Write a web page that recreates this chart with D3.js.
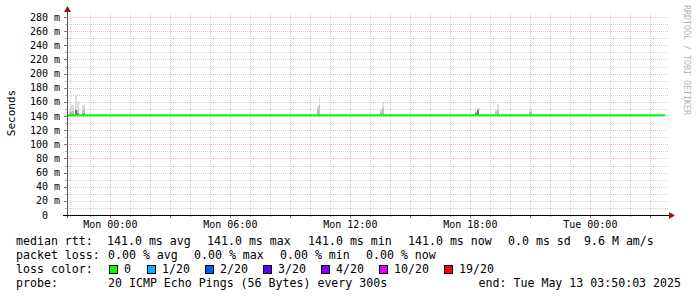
<!DOCTYPE html>
<html><head><meta charset="utf-8">
<script src="https://cdn.jsdelivr.net/npm/d3@7"></script>
<style>
html,body{margin:0;padding:0;background:#fff;}
svg{display:block;font-family:"DejaVu Sans Mono",monospace;}
</style></head>
<body><svg id="c" width="697" height="297"></svg>
<script>
// ---------- data ----------
const startTime = new Date(2025, 4, 11, 21, 50, 3);
const endTime = new Date(2025, 4, 13, 3, 50, 3);
// median rtt (seconds) – constant over the whole period
const medianTimes = [new Date(2025, 4, 11, 21, 50), new Date(2025, 4, 13, 3, 45)];
const medianValues = [0.141, 0.141];
// smoke (spread of the 20 pings) at a few 5-minute steps, seconds
const smokeTimes = [
  new Date(2025,4,11,21,55), new Date(2025,4,11,22,0), new Date(2025,4,11,22,5),
  new Date(2025,4,11,22,15), new Date(2025,4,11,22,20), new Date(2025,4,11,22,35),
  new Date(2025,4,11,22,40),
  new Date(2025,4,12,10,20), new Date(2025,4,12,10,25),
  new Date(2025,4,12,13,30), new Date(2025,4,12,13,35),
  new Date(2025,4,12,18,15), new Date(2025,4,12,18,20),
  new Date(2025,4,12,19,15), new Date(2025,4,12,19,20),
  new Date(2025,4,12,20,55), new Date(2025,4,12,21,0)
];
const smokeLow  = [0.142,0.143,0.143,0.148,0.144,0.143,0.144, 0.142,0.142, 0.142,0.142, 0.144,0.148, 0.142,0.142, 0.142,0.142];
const smokeMid  = [0.145,0.146,0.147,0.149,0.148,0.148,0.150, 0.150,0.155, 0.146,0.152, 0.146,0.150, 0.146,0.148, 0.145,0.146];
const smokeMax  = [0.151,0.155,0.155,0.170,0.160,0.155,0.155, 0.154,0.167, 0.150,0.159, 0.147,0.152, 0.148,0.157, 0.148,0.151];
const yTicks = [0,0.02,0.04,0.06,0.08,0.10,0.12,0.14,0.16,0.18,0.20,0.22,0.24,0.26,0.28];
const yLabel = "Seconds";
const lossLabels = ["0","1/20","2/20","3/20","4/20","10/20","19/20"];
const lossColors = ["#00ff00","#00b8ff","#0059ff","#5e00ff","#7e00ff","#dd00ff","#ff0000"];
const rttLegend = ["median rtt:","141.0 ms avg","141.0 ms max","141.0 ms min","141.0 ms now","0.0 ms sd","9.6 M am/s"];
const lossLegend = ["packet loss:","0.00 % avg","0.00 % max","0.00 % min","0.00 % now"];
const probeLegend = ["probe:","20 ICMP Echo Pings (56 Bytes) every 300s","end: Tue May 13 03:50:03 2025"];
const watermark = "RRDTOOL / TOBI OETIKER";

// ---------- chart ----------
const svg = d3.select("#c");
const L = 67, R = 667, T = 17, B = 215;
const x = d3.scaleTime().domain([startTime, endTime]).range([L, R]);
const y = d3.scaleLinear().domain([0, 0.28]).range([B, T]);

const g = svg.append("g");
// grid
const minorCol = "rgba(140,140,140,0.4)", majorCol = "rgba(200,100,100,0.4)";
const hMinor = d3.range(0, 29).map(i => i * 0.01);
hMinor.forEach(v => {
  const yy = Math.round(y(v)) + 0.5;
  const major = Math.round(v * 1000) % 20 === 0;
  if (v > 0) g.append("line").attr("x1", L).attr("x2", R + 2).attr("y1", yy).attr("y2", yy)
    .attr("stroke", major ? majorCol : minorCol).attr("stroke-dasharray", "1,1");
  g.append("line").attr("x1", L - (major ? 3 : 2)).attr("x2", L).attr("y1", yy).attr("y2", yy)
    .attr("stroke", major ? "rgba(120,60,60,0.7)" : "rgba(120,120,120,0.6)");
});
const hours = d3.timeHour.range(startTime, endTime);
hours.forEach(h => {
  const xx = Math.round(x(h)) + 0.5;
  const major = h.getHours() % 3 === 0;
  g.append("line").attr("x1", xx).attr("x2", xx).attr("y1", B).attr("y2", T - 3)
    .attr("stroke", major ? majorCol : minorCol).attr("stroke-dasharray", "1,1");
  g.append("line").attr("x1", xx).attr("x2", xx).attr("y1", B).attr("y2", B + (major ? 3 : 2))
    .attr("stroke", major ? "rgba(120,60,60,0.7)" : "rgba(120,120,120,0.6)");
});

// smoke
const step = 5 * 60 * 1000;
const sm = smokeTimes.map((t, i) => ({t, lo: smokeLow[i], mid: smokeMid[i], max: smokeMax[i]}));
const base = medianValues[0];
const bw = d => x(new Date(+d.t + step)) - x(d.t);
g.selectAll(".s1").data(sm).join("rect").attr("shape-rendering","crispEdges")
  .attr("x", d => x(d.t)).attr("width", bw)
  .attr("y", d => y(d.max)).attr("height", d => y(base) - y(d.max)).attr("fill", "#dcdcdc");
g.selectAll(".s2").data(sm).join("rect").attr("shape-rendering","crispEdges")
  .attr("x", d => x(d.t)).attr("width", bw)
  .attr("y", d => y(d.mid)).attr("height", d => y(base) - y(d.mid)).attr("fill", "#bdbdbd");
g.selectAll(".s3").data(sm).join("rect").attr("shape-rendering","crispEdges")
  .attr("x", d => x(d.t)).attr("width", bw)
  .attr("y", d => y(d.lo)).attr("height", d => y(base) - y(d.lo)).attr("fill", "#777");

// median line
g.append("path").datum(medianTimes.map((t, i) => [t, medianValues[i]]))
  .attr("d", d3.line().x(d => x(d[0])).y(d => y(d[1])))
  .attr("stroke", lossColors[0]).attr("stroke-width", 2).attr("fill", "none");

// axes
g.append("line").attr("x1", L + 0.5).attr("x2", L + 0.5).attr("y1", B + 3).attr("y2", T - 6)
  .attr("stroke", "#555");
g.append("line").attr("x1", L - 4).attr("x2", R + 4).attr("y1", B + 0.5).attr("y2", B + 0.5)
  .attr("stroke", "#000");
g.append("path").attr("d", `M${L-3},${T-5} L${L+4},${T-5} L${L+0.5},${T-11} Z`).attr("fill", "#8b1a1a");
g.append("path").attr("d", `M${R+2},${B-3} L${R+2},${B+4} L${R+8},${B+0.5} Z`).attr("fill", "#8b1a1a");

// y tick labels
const fmtY = v => v === 0 ? "0" : Math.round(v * 1000) + " m";
g.selectAll(".yl").data(yTicks).join("text")
  .attr("x", d => d === 0 ? 48 : 60).attr("y", d => y(d) + 3.5)
  .attr("text-anchor", "end").attr("font-size", 10).attr("fill", "#000").text(fmtY);
// x tick labels
const xTicks = d3.timeHour.every(6).range(startTime, endTime);
const fmtX = d3.timeFormat("%a %H:%M");
g.selectAll(".xl").data(xTicks).join("text")
  .attr("x", d => x(d)).attr("y", 228).attr("text-anchor", "middle")
  .attr("font-size", 10).attr("fill", "#000").text(fmtX);
// y axis title
svg.append("text").attr("transform", "translate(15,113) rotate(-90)")
  .attr("text-anchor", "middle").attr("font-size", 11).text(yLabel);
// watermark
svg.append("text").attr("transform", "translate(684,5) rotate(90)")
  .attr("font-size", 8.3).attr("fill", "#b4b4b4").text(watermark);

// legend
const lf = 11.6;
const rttX = [16, 107, 207, 308, 408, 508, 584];
rttLegend.forEach((s, i) => svg.append("text").attr("x", rttX[i]).attr("y", 245).attr("font-size", lf).text(s));
const lossX = [16, 108, 194, 280, 366];
lossLegend.forEach((s, i) => svg.append("text").attr("x", lossX[i]).attr("y", 259).attr("font-size", lf).text(s));
svg.append("text").attr("x", 16).attr("y", 273).attr("font-size", lf).text("loss color:");
const boxX = [109, 147, 205, 263, 321, 379, 444];
lossLabels.forEach((s, i) => {
  svg.append("rect").attr("x", boxX[i] + 0.5).attr("y", 265.5).attr("width", 8).attr("height", 8)
    .attr("fill", lossColors[i]).attr("stroke", "#000");
  svg.append("text").attr("x", boxX[i] + 15).attr("y", 273).attr("font-size", lf).text(s);
});
const probeX = [16, 108];
probeLegend.slice(0, 2).forEach((s, i) => svg.append("text").attr("x", probeX[i]).attr("y", 287).attr("font-size", lf).text(s));
svg.append("text").attr("x", 681).attr("y", 287).attr("text-anchor", "end").attr("font-size", lf).text(probeLegend[2]);
</script></body></html>
